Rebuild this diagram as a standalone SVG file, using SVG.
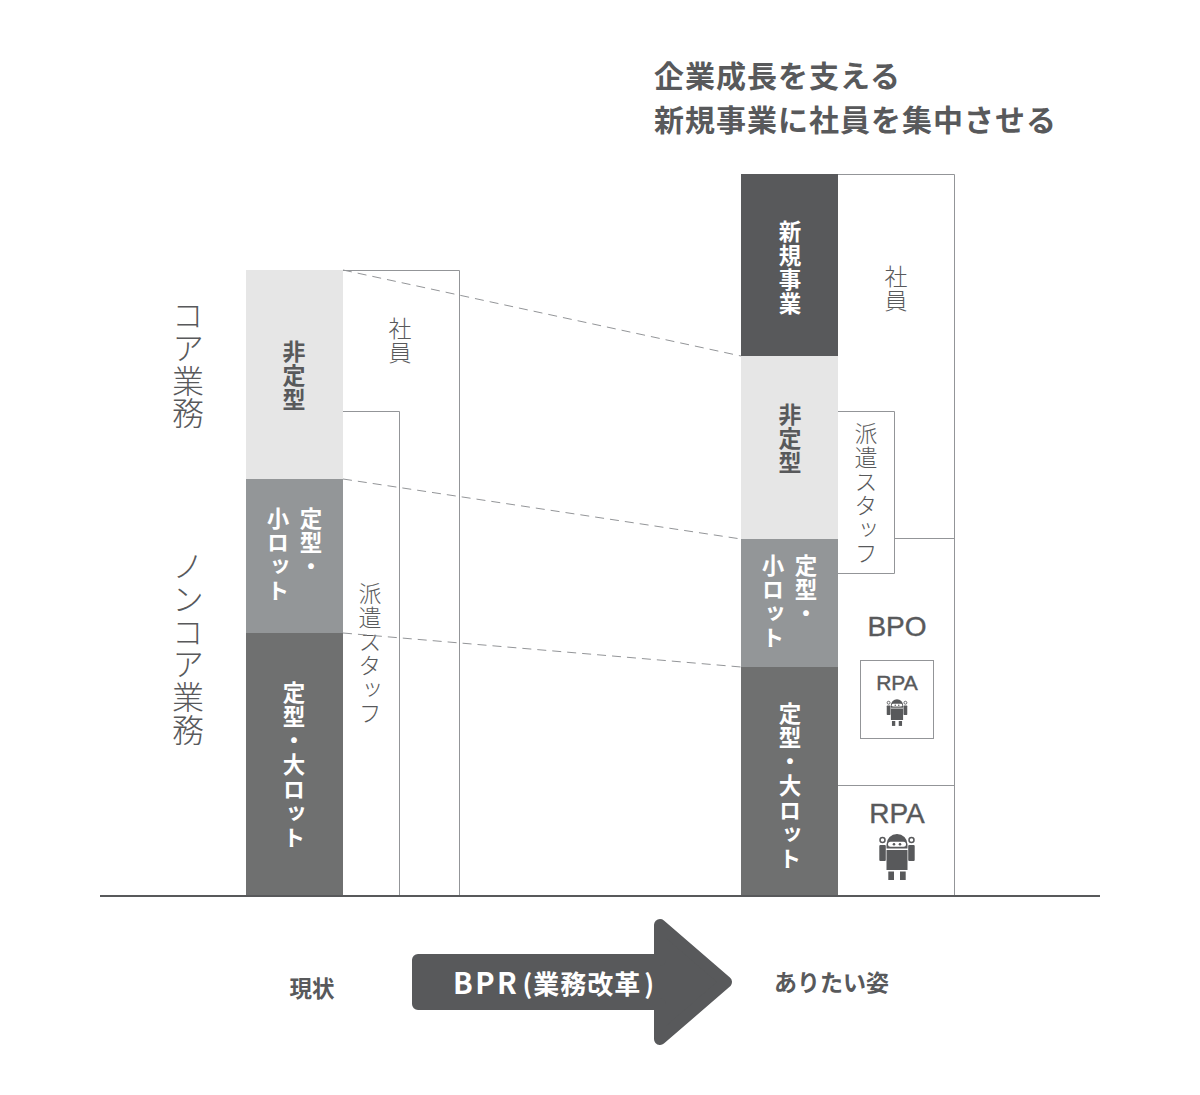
<svg xmlns="http://www.w3.org/2000/svg" width="1200" height="1095" viewBox="0 0 1200 1095">
<defs>
<style>
text{font-family:"Noto Sans CJK JP","Liberation Sans",sans-serif}
.v{writing-mode:vertical-rl;text-anchor:start}
.ln{stroke:#939598;stroke-width:1;fill:none}
.dash{stroke:#939598;stroke-width:1;fill:none;stroke-dasharray:9 6}
.w{fill:#fff;font-weight:700;font-size:22.500px;letter-spacing:1.700px}
.d{fill:#58595b;font-weight:700;font-size:23px;letter-spacing:1px}
.l{fill:#58595b;font-size:23px;letter-spacing:1px;font-weight:300}
.xl{fill:#58595b;font-size:32px;letter-spacing:.7px;font-weight:300}
.en{fill:#58595b;stroke:#58595b;stroke-width:.4;font-family:"Liberation Sans",sans-serif;text-anchor:middle}
</style>
<g id="robot" fill="#58595b">
<path d="M-10.500 -7.500 V-11.500 a10.500 10.500 0 0 1 21 0 V-7.500 Z M-10.500 -6 H10.500 V14 H-10.500 Z"/>
<rect x="-17.700" y="-11" width="6.500" height="16" rx="1"/>
<rect x="11.200" y="-11" width="6.500" height="16" rx="1"/>
<circle cx="-14.500" cy="-16" r="2.500" fill="none" stroke="#58595b" stroke-width="1.500"/>
<circle cx="14.500" cy="-16" r="2.500" fill="none" stroke="#58595b" stroke-width="1.500"/>
<rect x="-8.700" y="15.500" width="5.700" height="8.500"/>
<rect x="3" y="15.500" width="5.700" height="8.500"/>
<rect x="-9" y="-14.300" width="18" height="5" rx="2.500" fill="#fff"/>
<circle cx="-3" cy="-11.800" r="1.300"/>
<circle cx="3" cy="-11.800" r="1.300"/>
</g>
</defs>
<rect width="1200" height="1095" fill="#fff"/>

<g id="title"><text x="654" y="87" fill="#58595b" font-size="30" font-weight="700" letter-spacing="1">企業成長を支える</text>
<text x="654" y="131" fill="#58595b" font-size="30" font-weight="700" letter-spacing="1">新規事業に社員を集中させる</text></g>

<g id="left-staff"><path class="ln" d="M343 270.500H459.500V895"/><text class="l v" x="400" y="317">社員</text></g>
<g id="left-temp"><path class="ln" d="M343 411.500H399.500V895"/><text class="l v" x="370" y="582">派遣スタッフ</text></g>
<g id="left-a"><rect x="246" y="270" width="97" height="209" fill="#e6e6e6"/><text class="d v" x="294" y="340">非定型</text></g>
<g id="left-b"><rect x="246" y="479" width="97" height="154" fill="#939698"/><text class="w v" x="311" y="507">定型・</text><text class="w v" x="278" y="507">小ロット</text></g>
<g id="left-c"><rect x="246" y="633" width="97" height="262" fill="#6f7070"/><text class="w v" x="294" y="681">定型・大ロット</text></g>

<g id="right-staff"><path class="ln" d="M838 174.500H954.500V895"/><text class="l v" x="896" y="265">社員</text></g>
<g id="right-a"><rect x="741" y="174" width="97" height="182" fill="#58595b"/><text class="w v" x="790" y="220">新規事業</text></g>
<g id="right-b"><rect x="741" y="356" width="97" height="183" fill="#e6e6e6"/><text class="d v" x="790" y="403">非定型</text></g>
<g id="right-c"><rect x="741" y="539" width="97" height="128" fill="#939698"/><text class="w v" x="806" y="554">定型・</text><text class="w v" x="773" y="554">小ロット</text></g>
<g id="right-d"><rect x="741" y="667" width="97" height="228" fill="#6f7070"/><text class="w v" x="790" y="702">定型・大ロット</text></g>
<g id="right-temp"><path class="ln" d="M838 411.500H894.500V573.500H838"/><text class="l v" x="866" y="422">派遣スタッフ</text></g>
<g id="right-bpo"><path class="ln" d="M894.500 538.500H954.500"/><text class="en" x="897" y="636" font-size="28">BPO</text></g>
<g id="right-rpa-small"><rect x="860.500" y="660.500" width="73" height="78" fill="#fff" stroke="#939598"/><text class="en" x="897" y="690" font-size="21">RPA</text><use href="#robot" transform="translate(897 712) scale(.58)"/></g>
<g id="right-rpa"><path class="ln" d="M838 785.500H954.500"/><text class="en" x="897" y="823" font-size="28">RPA</text><use href="#robot" transform="translate(897 856)"/></g>

<g id="connectors">
<path class="dash" d="M343 270L741 356"/>
<path class="dash" d="M343 479L741 539"/>
<path class="dash" d="M343 633L741 667"/>
<path d="M100 896H1100" stroke="#58595b" stroke-width="2" fill="none"/>
</g>

<g id="core"><text class="xl v" x="188" y="299">コア業務</text></g>
<g id="noncore"><text class="xl v" x="188" y="550">ノンコア業務</text></g>

<g id="current"><text x="289.500" y="997" fill="#58595b" font-size="22.500" font-weight="700">現状</text></g>
<g id="ideal"><text x="774" y="991" fill="#58595b" font-size="23" font-weight="700">ありたい姿</text></g>
<g id="bpr"><path d="M418 960H660V925L726 982L660 1039V1004H418Z" fill="#58595b" stroke="#58595b" stroke-width="12" stroke-linejoin="round"/>
<text x="453" y="994" fill="#fff" font-size="26" font-weight="700" letter-spacing="1"><tspan font-size="29" letter-spacing="2.500">BPR</tspan><tspan dx="3">(</tspan>業務改革<tspan dx="3">)</tspan></text></g>
</svg>
